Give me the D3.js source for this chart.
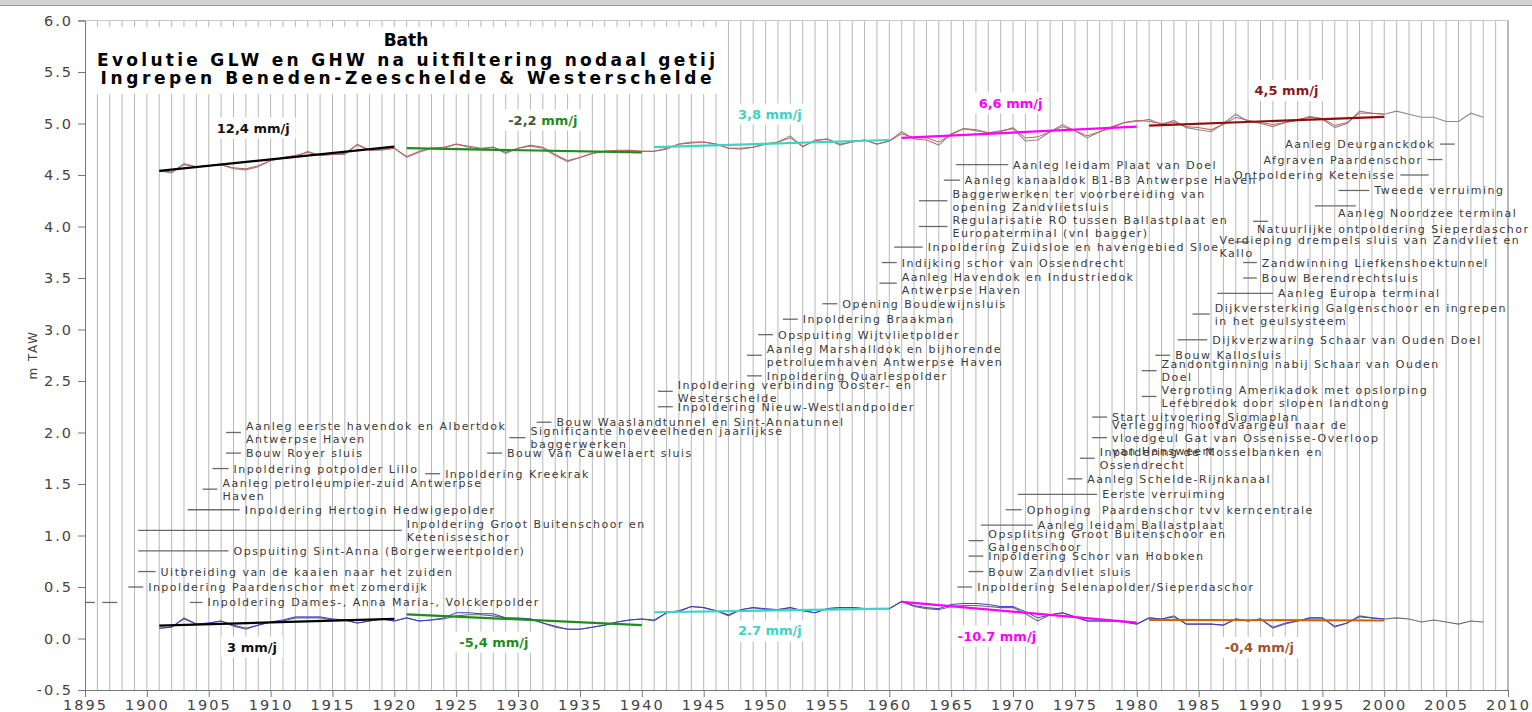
<!DOCTYPE html>
<html>
<head>
<meta charset="utf-8">
<script src="https://cdn.jsdelivr.net/npm/d3@7"></script>
<style>
  body { margin: 0; background: #fff; }
  svg text { font-family: "DejaVu Sans", Verdana, sans-serif; }
</style>
</head>
<body>
<script>
// jaren met metingen
const jaren = d3.range(1901, 2009);
const jarenGefilterd = d3.range(1901, 2001);

// GHW (hoogwater) in m TAW
const hwGemeten = [
  4.54, 4.52, 4.61, 4.58, 4.59, 4.60, 4.56, 4.55, 4.58, 4.64,
  4.66, 4.67, 4.73, 4.69, 4.70, 4.70, 4.80, 4.74, 4.74, 4.76,
  4.67, 4.72, 4.76, 4.76, 4.80, 4.77, 4.75, 4.77, 4.71, 4.76,
  4.78, 4.76, 4.69, 4.63, 4.67, 4.71, 4.73, 4.73, 4.74, 4.73,
  4.73, 4.75, 4.80, 4.82, 4.82, 4.80, 4.76, 4.75, 4.77, 4.80,
  4.82, 4.88, 4.77, 4.84, 4.85, 4.79, 4.82, 4.84, 4.80, 4.83,
  4.92, 4.85, 4.84, 4.79, 4.90, 4.95, 4.93, 4.91, 4.93, 4.95,
  4.83, 4.84, 4.92, 4.99, 4.93, 4.86, 4.92, 4.96, 5.01, 5.02,
  5.04, 4.99, 5.03, 4.96, 4.94, 4.92, 5.00, 5.09, 5.02, 5.00,
  4.97, 5.01, 5.03, 5.07, 5.04, 4.96, 5.00, 5.12, 5.10, 5.09,
  5.12, 5.09, 5.06, 5.06, 5.02, 5.02, 5.10, 5.06
];
const hwGefilterd = [
  4.54, 4.53, 4.60, 4.58, 4.59, 4.60, 4.57, 4.56, 4.59, 4.64,
  4.67, 4.69, 4.72, 4.69, 4.70, 4.71, 4.79, 4.74, 4.75, 4.76,
  4.68, 4.73, 4.76, 4.77, 4.80, 4.78, 4.76, 4.77, 4.72, 4.76,
  4.79, 4.77, 4.70, 4.64, 4.67, 4.71, 4.73, 4.74, 4.74, 4.73,
  4.73, 4.76, 4.80, 4.81, 4.82, 4.80, 4.76, 4.76, 4.77, 4.80,
  4.82, 4.86, 4.78, 4.83, 4.85, 4.80, 4.82, 4.84, 4.80, 4.83,
  4.90, 4.86, 4.86, 4.82, 4.89, 4.95, 4.94, 4.91, 4.92, 4.96,
  4.86, 4.87, 4.92, 4.97, 4.93, 4.88, 4.92, 4.97, 5.01, 5.03,
  5.02, 5.00, 5.01, 4.97, 4.96, 4.94, 4.99, 5.06, 5.03, 5.01,
  4.99, 5.01, 5.04, 5.06, 5.05, 4.98, 5.01, 5.10, 5.10, 5.09
];

// GLW (laagwater) in m TAW
const lwGemeten = [
  0.10, 0.11, 0.20, 0.14, 0.15, 0.17, 0.12, 0.09, 0.13, 0.16,
  0.17, 0.20, 0.20, 0.20, 0.18, 0.18, 0.15, 0.17, 0.19, 0.17,
  0.20, 0.17, 0.18, 0.19, 0.22, 0.23, 0.23, 0.22, 0.20, 0.19,
  0.19, 0.15, 0.11, 0.09, 0.09, 0.11, 0.13, 0.16, 0.18, 0.19,
  0.17, 0.25, 0.26, 0.31, 0.30, 0.27, 0.22, 0.28, 0.30, 0.28,
  0.28, 0.30, 0.27, 0.25, 0.29, 0.30, 0.30, 0.29, 0.29, 0.29,
  0.36, 0.31, 0.29, 0.28, 0.31, 0.32, 0.32, 0.31, 0.30, 0.30,
  0.24, 0.17, 0.23, 0.25, 0.21, 0.17, 0.17, 0.17, 0.16, 0.14,
  0.20, 0.19, 0.22, 0.14, 0.14, 0.14, 0.13, 0.19, 0.17, 0.19,
  0.10, 0.14, 0.17, 0.20, 0.20, 0.11, 0.15, 0.22, 0.20, 0.19,
  0.20, 0.19, 0.16, 0.18, 0.16, 0.14, 0.17, 0.16
];
const lwGefilterd = [
  0.10, 0.11, 0.19, 0.14, 0.15, 0.17, 0.13, 0.10, 0.13, 0.16,
  0.18, 0.21, 0.21, 0.21, 0.19, 0.18, 0.15, 0.17, 0.19, 0.17,
  0.20, 0.17, 0.18, 0.20, 0.25, 0.25, 0.24, 0.24, 0.20, 0.20,
  0.19, 0.15, 0.12, 0.09, 0.09, 0.11, 0.13, 0.16, 0.18, 0.19,
  0.18, 0.25, 0.27, 0.31, 0.30, 0.27, 0.23, 0.28, 0.30, 0.29,
  0.28, 0.30, 0.27, 0.25, 0.29, 0.30, 0.30, 0.29, 0.29, 0.29,
  0.36, 0.32, 0.30, 0.29, 0.33, 0.34, 0.34, 0.33, 0.31, 0.31,
  0.26, 0.20, 0.23, 0.25, 0.21, 0.17, 0.17, 0.17, 0.16, 0.14,
  0.20, 0.19, 0.21, 0.14, 0.14, 0.14, 0.13, 0.19, 0.17, 0.19,
  0.11, 0.15, 0.17, 0.20, 0.20, 0.12, 0.15, 0.21, 0.20, 0.19
];

// trendlijnen per periode van 20 jaar
const trendPerioden = [[1901, 1920], [1921, 1940], [1941, 1960], [1961, 1980], [1981, 2000]];
const hwTrendBegin = [4.54, 4.76, 4.77, 4.86, 4.98];
const hwTrendEinde = [4.775, 4.72, 4.84, 4.97, 5.065];
const lwTrendBegin = [0.125, 0.235, 0.255, 0.355, 0.18];
const lwTrendEinde = [0.19, 0.13, 0.29, 0.155, 0.175];
const hwTrendLabels = ["12,4 mm/j", "-2,2 mm/j", "3,8 mm/j", "6,6 mm/j", "4,5 mm/j"];
const lwTrendLabels = ["3 mm/j", "-5,4 mm/j", "2.7 mm/j", "-10.7 mm/j", "-0,4 mm/j"];

// ingrepen: tekst (regels gescheiden door |), niveau, van, tot, kant van de tekst
const ingrepen = [
  ["", 0.35, 1895, 1895.8, "r"],
  ["", 0.35, 1896.4, 1897.6, "r"],
  ["Inpoldering Dames-, Anna Maria-, Volckerpolder", 0.35, 1903.5, 1904.5, "r"],
  ["Inpoldering Paardenschor met zomerdijk", 0.5, 1898.5, 1899.7, "r"],
  ["Uitbreiding van de kaaien naar het zuiden", 0.65, 1899.3, 1900.7, "r"],
  ["Opspuiting Sint-Anna (Borgerweertpolder)", 0.85, 1899.3, 1906.6, "r"],
  ["Inpoldering Groot Buitenschoor en|Ketenisseschor", 1.05, 1899.3, 1920.6, "r"],
  ["Inpoldering Hertogin Hedwigepolder", 1.25, 1903.3, 1907.5, "r"],
  ["Aanleg petroleumpier-zuid Antwerpse|Haven", 1.45, 1904.5, 1905.7, "r"],
  ["Inpoldering potpolder Lillo", 1.65, 1905.3, 1906.6, "r"],
  ["Bouw Royer sluis", 1.8, 1906.4, 1907.6, "r"],
  ["Aanleg eerste havendok en Albertdok|Antwerpse Haven", 2.0, 1906.4, 1907.6, "r"],
  ["Inpoldering Kreekrak", 1.6, 1922.5, 1923.7, "r"],
  ["Bouw Van Cauwelaert sluis", 1.8, 1927.5, 1928.7, "r"],
  ["Significante hoeveelheden jaarlijkse|baggerwerken", 1.95, 1929.3, 1930.6, "r"],
  ["Bouw Waaslandtunnel en Sint-Annatunnel", 2.1, 1931.5, 1932.7, "r"],
  ["Inpoldering Nieuw-Westlandpolder", 2.25, 1941.3, 1942.5, "r"],
  ["Inpoldering verbinding Ooster- en|Westerschelde", 2.4, 1941.3, 1942.5, "r"],
  ["Inpoldering Quarlespolder", 2.55, 1948.5, 1949.7, "r"],
  ["Aanleg Marshalldok en bijhorende|petroluemhaven Antwerpse Haven", 2.75, 1948.5, 1949.7, "r"],
  ["Opspuiting Wijtvlietpolder", 2.95, 1949.4, 1950.6, "r"],
  ["Inpoldering Braakman", 3.1, 1951.4, 1952.6, "r"],
  ["Opening Boudewijnsluis", 3.25, 1954.6, 1955.8, "r"],
  ["Aanleg Havendok en Industriedok|Antwerpse Haven", 3.45, 1959.2, 1960.6, "r"],
  ["Indijking schor van Ossendrecht", 3.65, 1959.4, 1960.6, "r"],
  ["Inpoldering Zuidsloe en havengebied Sloe", 3.8, 1960.4, 1962.7, "r"],
  ["Regularisatie RO tussen Ballastplaat en|Europaterminal (vnl bagger)", 4.0, 1962.4, 1964.7, "r"],
  ["Baggerwerken ter voorbereiding van|opening Zandvlietsluis", 4.25, 1962.4, 1964.7, "r"],
  ["Aanleg kanaaldok B1-B3 Antwerpse Haven", 4.45, 1964.4, 1965.7, "r"],
  ["Aanleg leidam Plaat van Doel", 4.6, 1965.4, 1969.6, "r"],
  ["Inpoldering Selenapolder/Sieperdaschor", 0.5, 1965.5, 1966.7, "r"],
  ["Bouw Zandvliet sluis", 0.65, 1966.4, 1967.6, "r"],
  ["Inpoldering Schor van Hoboken", 0.8, 1966.4, 1967.6, "r"],
  ["Opsplitsing Groot Buitenschoor en|Galgenschoor", 0.95, 1966.4, 1967.6, "r"],
  ["Aanleg leidam Ballastplaat", 1.1, 1967.4, 1971.6, "r"],
  ["Ophoging  Paardenschor tvv kerncentrale", 1.25, 1969.4, 1970.7, "r"],
  ["Eerste verruiming", 1.4, 1970.4, 1976.8, "r"],
  ["Aanleg Schelde-Rijnkanaal", 1.55, 1974.4, 1975.6, "r"],
  ["Inpoldering de Mosselbanken en|Ossendrecht", 1.75, 1975.4, 1976.6, "r"],
  ["Verlegging hoofdvaargeul naar de|vloedgeul Gat van Ossenisse-Overloop|van Hansweert", 1.95, 1976.4, 1977.6, "r"],
  ["Start uitvoering Sigmaplan", 2.15, 1976.4, 1977.6, "r"],
  ["Vergroting Amerikadok met opslorping|Lefebredok door slopen landtong", 2.35, 1980.4, 1981.6, "r"],
  ["Zandontginning nabij Schaar van Ouden|Doel", 2.6, 1980.4, 1981.6, "r"],
  ["Bouw Kallosluis", 2.75, 1981.5, 1982.7, "r"],
  ["Dijkverzwaring Schaar van Ouden Doel", 2.9, 1983.3, 1985.7, "r"],
  ["Dijkversterking Galgenschoor en ingrepen|in het geulsysteem", 3.15, 1984.5, 1985.9, "r"],
  ["Aanleg Europa terminal", 3.35, 1986.5, 1991.0, "r"],
  ["Bouw Berendrechtsluis", 3.5, 1988.6, 1989.7, "r"],
  ["Zandwinning Liefkenshoektunnel", 3.65, 1988.6, 1989.7, "r"],
  ["Verdieping drempels sluis van Zandvliet en|Kallo", 3.85, 1987.9, 1989.1, "o"],
  ["Natuurlijke ontpoldering Sieperdaschor", 4.05, 1989.4, 1990.6, "o"],
  ["Aanleg Noordzee terminal", 4.2, 1994.4, 1997.7, "o"],
  ["Tweede verruiming", 4.35, 1996.3, 1998.8, "r"],
  ["Ontpoldering Ketenisse", 4.5, 2001.3, 2003.6, "l"],
  ["Afgraven Paardenschor", 4.65, 2003.5, 2004.7, "l"],
  ["Aanleg Deurganckdok", 4.8, 2004.5, 2005.7, "l"]
];

// ---- opmaak ----
const width = 1532, height = 712;
const margin = { top: 20.5, right: 24, bottom: 22, left: 85 };

const hwKleuren = ["#000000", "#1e8c1e", "#3ed4c4", "#ff00ff", "#8b1010"];
const lwKleuren = ["#000000", "#1e8c1e", "#3ed4c4", "#ff00ff", "#c8660f"];
const hwLabelKleuren = ["#111111", "#1e8c1e", "#3ed4c4", "#ff00ff", "#8b1a1a"];
const lwLabelKleuren = ["#111111", "#1e8c1e", "#3ed4c4", "#ff00ff", "#a0522d"];
// label posities (jaar, niveau van het midden)
const hwLabelPos = [[1908.6, 4.956], [1932.0, 5.034], [1950.35, 5.092], [1969.8, 5.199], [1992.1, 5.32]];
const lwLabelPos = [[1908.5, -0.083], [1928.05, -0.034], [1950.35, 0.073], [1968.7, 0.024], [1989.9, -0.087]];
// afwijkende tekstplaatsing: [dx vanaf begin lijn, dy]
const tekstVerschuiving = {
  "Verdieping": [-15, 4.5],
  "Natuurlijke": [4, 7.5],
  "Aanleg Noordzee": [23, 7]
};

const x = d3.scaleLinear().domain([1895, 2010]).range([margin.left, width - margin.right]);
const y = d3.scaleLinear().domain([-0.5, 6]).range([height - margin.bottom, margin.top]);

const svg = d3.select("body").append("svg")
  .attr("width", width)
  .attr("height", height);

// grijze balk bovenaan
svg.append("rect").attr("x", 0).attr("y", 0).attr("width", width).attr("height", 5).attr("fill", "#d2d2d2");
svg.append("line").attr("x1", 0).attr("x2", width).attr("y1", 5.5).attr("y2", 5.5).attr("stroke", "#9a9a9a");

// verticale rasterlijnen per jaar
svg.append("g")
  .selectAll("line")
  .data(d3.range(1896, 2010))
  .enter()
  .append("line")
  .attr("x1", d => x(d)).attr("x2", d => x(d))
  .attr("y1", y(6)).attr("y2", y(-0.5))
  .attr("stroke", "#b8b8b8")
  .attr("stroke-width", 1);

// kader
svg.append("line").attr("x1", x(1895)).attr("x2", x(2010)).attr("y1", y(6)).attr("y2", y(6)).attr("stroke", "#c8c8c8");
svg.append("line").attr("x1", x(2010)).attr("x2", x(2010)).attr("y1", y(6)).attr("y2", y(-0.5)).attr("stroke", "#777");

// assen
const ejeY = d3.axisLeft(y)
  .tickValues(d3.range(-0.5, 6.01, 0.5))
  .tickFormat(d => d.toFixed(1))
  .tickSize(7)
  .tickPadding(5);
const gY = svg.append("g")
  .attr("transform", "translate(" + margin.left + ",0)")
  .call(ejeY);

const ejeX = d3.axisBottom(x)
  .tickValues(d3.range(1895, 2011, 5))
  .tickFormat(d => d)
  .tickSize(7)
  .tickPadding(3);
const gX = svg.append("g")
  .attr("transform", "translate(0," + y(-0.5) + ")")
  .call(ejeX);

[gX, gY].forEach(g => {
  g.select(".domain").attr("stroke", "#777");
  g.selectAll(".tick line").attr("stroke", "#777");
  g.selectAll("text")
    .attr("fill", "#444")
    .style("font-size", "14.5px")
    .style("letter-spacing", "2px")
    .style("font-family", "DejaVu Sans");
});

svg.append("text")
  .attr("transform", "translate(33,355) rotate(-90)")
  .attr("text-anchor", "middle")
  .attr("dominant-baseline", "central")
  .style("font-size", "12px")
  .style("letter-spacing", "1.5px")
  .attr("fill", "#444")
  .text("m TAW");

// ingrepen
const gIngrepen = svg.append("g");
ingrepen.forEach(([tekst, niveau, van, tot, kant]) => {
  const yy = y(niveau);
  gIngrepen.append("line")
    .attr("x1", x(van)).attr("x2", x(tot))
    .attr("y1", yy).attr("y2", yy)
    .attr("stroke", "#6a6a6a")
    .attr("stroke-width", 1.3);
  if (!tekst) return;
  const regels = tekst.split("|");
  let tx, anker = "start", dy = 0;
  if (kant === "l") {
    tx = x(van) - 5;
    anker = "end";
  } else if (kant === "o") {
    const sleutel = Object.keys(tekstVerschuiving).find(k => tekst.startsWith(k));
    tx = x(van) + tekstVerschuiving[sleutel][0];
    dy = tekstVerschuiving[sleutel][1];
  } else {
    tx = x(tot) + 5;
  }
  const t = gIngrepen.append("text")
    .attr("x", tx)
    .attr("y", yy + dy - (regels.length - 1) * 6.5)
    .attr("text-anchor", anker)
    .attr("dominant-baseline", "central")
    .attr("fill", "#3a3a3a")
    .style("font-size", "11px")
    .style("letter-spacing", "1.5px")
    .style("white-space", "pre");
  regels.forEach((r, i) => {
    t.append("tspan")
      .attr("x", tx)
      .attr("dy", i === 0 ? 0 : 13)
      .text(r);
  });
});

// meetreeksen
const lijn = d3.line().x(d => x(d[0])).y(d => y(d[1]));
function reeks(jr, waarden, kleur, dikte) {
  svg.append("path")
    .datum(jr.map((j, i) => [j, waarden[i]]))
    .attr("d", lijn)
    .attr("fill", "none")
    .attr("stroke", kleur)
    .attr("stroke-width", dikte);
}
reeks(jaren, hwGemeten, "#8a8a8a", 1.1);
reeks(jarenGefilterd, hwGefilterd, "#c8585a", 1);
reeks(jaren, lwGemeten, "#6a6a6a", 1.1);
reeks(jarenGefilterd, lwGefilterd, "#3a3ad0", 1);

// trendlijnen
trendPerioden.forEach((p, i) => {
  svg.append("line")
    .attr("x1", x(p[0])).attr("x2", x(p[1]))
    .attr("y1", y(hwTrendBegin[i])).attr("y2", y(hwTrendEinde[i]))
    .attr("stroke", hwKleuren[i]).attr("stroke-width", 2.2);
  svg.append("line")
    .attr("x1", x(p[0])).attr("x2", x(p[1]))
    .attr("y1", y(lwTrendBegin[i])).attr("y2", y(lwTrendEinde[i]))
    .attr("stroke", lwKleuren[i]).attr("stroke-width", 2.2);
});

// labels met witte achtergrond
function label(tekst, pos, kleur) {
  const g = svg.append("g");
  const t = g.append("text")
    .attr("x", x(pos[0]))
    .attr("y", y(pos[1]))
    .attr("text-anchor", "middle")
    .attr("dominant-baseline", "central")
    .style("font-size", "13px")
    .style("font-weight", "bold")
    .attr("fill", kleur);
  if (tekst === "-2,2 mm/j") {
    t.append("tspan").attr("fill", "#3c5a3c").text("-2,2 ");
    t.append("tspan").text("mm/j");
  } else {
    t.text(tekst);
  }
  const b = t.node().getBBox();
  g.insert("rect", "text")
    .attr("x", b.x - 6).attr("y", b.y - 3)
    .attr("width", b.width + 12).attr("height", b.height + 6)
    .attr("fill", "#fff");
}
hwTrendLabels.forEach((l, i) => label(l, hwLabelPos[i], hwLabelKleuren[i]));
lwTrendLabels.forEach((l, i) => label(l, lwLabelPos[i], lwLabelKleuren[i]));

// titel
svg.append("rect").attr("x", 90).attr("y", 27).attr("width", 632).attr("height", 67).attr("fill", "#fff");
const titel = [
  ["Bath", 46, null],
  ["Evolutie GLW en GHW na uitfiltering nodaal getij", 66, 618],
  ["Ingrepen Beneden-Zeeschelde & Westerschelde", 84, 611]
];
titel.forEach(([tekst, ty, lengte]) => {
  const t = svg.append("text")
    .attr("x", 406)
    .attr("y", ty)
    .attr("text-anchor", "middle")
    .style("font-size", "17px")
    .style("font-weight", "bold")
    .attr("fill", "#000")
    .text(tekst);
  if (lengte) t.attr("textLength", lengte).attr("lengthAdjust", "spacing");
});
</script>
</body>
</html>
